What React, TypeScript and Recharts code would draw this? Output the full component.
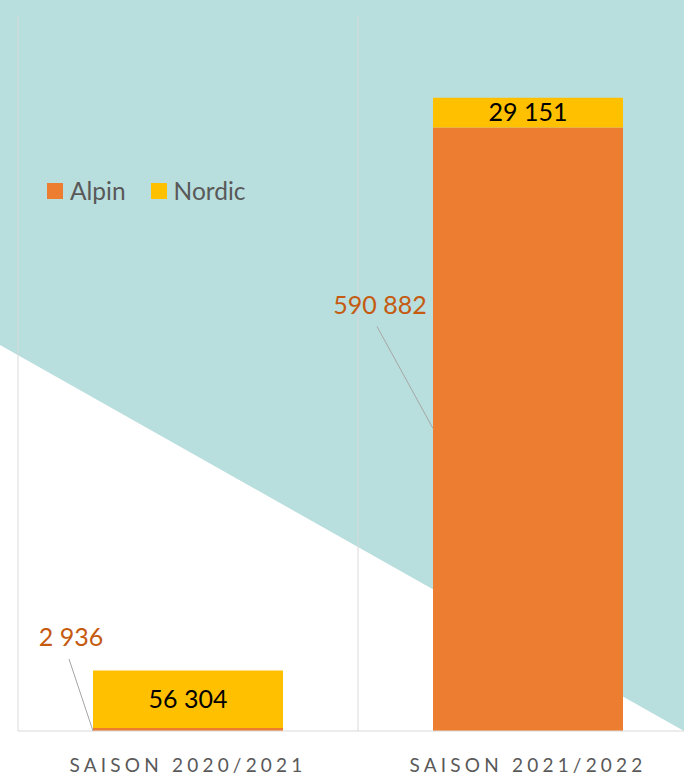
import React from 'react';
import { BarChart, Bar, XAxis, YAxis, CartesianGrid, Legend, LabelList } from 'recharts';

const seasons = ['SAISON 2020/2021', 'SAISON 2021/2022'];
const alpin = [2936, 590882];
const nordic = [56304, 29151];

const data = seasons.map((season, i) => ({ season, Alpin: alpin[i], Nordic: nordic[i] }));

const fmt = (v: number) => v.toLocaleString('fr-FR').replace(/\s/g, ' ');

const FONT = 'Lato, "Open Sans", sans-serif';

const AxisTick = (props: any) => {
  const { x, y, payload } = props;
  return (
    <text x={x} y={y + 33} textAnchor="middle" fill="#595959" fontSize={19} fontFamily={FONT} letterSpacing={4.2}>
      {payload.value}
    </text>
  );
};

// Alpin labels sit outside the bar with a leader line
const AlpinLabel = (props: any) => {
  const { x, y, height, value, index } = props;
  const bottom = y + height;
  if (index === 0) {
    return (
      <g>
        <line x1={x - 24} y1={bottom - 72} x2={x} y2={bottom} stroke="#A6A6A6" strokeWidth={1} />
        <text x={x - 22} y={bottom - 85} textAnchor="middle" fill="#C55A11" fontSize={25} fontFamily={FONT}>
          {fmt(value)}
        </text>
      </g>
    );
  }
  return (
    <g>
      <line x1={x - 56} y1={y + 199} x2={x} y2={y + 301} stroke="#A6A6A6" strokeWidth={1} />
      <text x={x - 53} y={y + 187} textAnchor="middle" fill="#C55A11" fontSize={25} fontFamily={FONT}>
        {fmt(value)}
      </text>
    </g>
  );
};

const LegendContent = (props: any) => {
  const { payload } = props;
  return (
    <div style={{ display: 'flex', gap: 25, fontFamily: FONT, fontSize: 24.5, color: '#595959' }}>
      {payload.map((p: any) => (
        <div key={p.value} style={{ display: 'flex', alignItems: 'center' }}>
          <span style={{ width: 16, height: 16, background: p.color, display: 'inline-block', marginRight: 7 }} />
          <span>{p.value}</span>
        </div>
      ))}
    </div>
  );
};

export default function App() {
  return (
    <div style={{ position: 'absolute', left: 0, top: 0, width: 684, height: 776, overflow: 'hidden', background: '#fff' }}>
      <svg width={684} height={776} style={{ position: 'absolute', left: 0, top: 0 }}>
        <polygon points="0,0 684,0 684,731 0,345" fill="#B8DEDD" />
        <text x={316} y={-5} fill="#1F3864" fontSize={30} fontWeight={700} fontFamily={FONT}>y</text>
      </svg>
      <div style={{ position: 'absolute', left: 0, top: 0 }}>
        <BarChart
          width={700}
          height={776}
          data={data}
          margin={{ top: 16, right: 2, left: 18, bottom: 0 }}
          barSize={190}
        >
          <CartesianGrid
            horizontal={false}
            stroke="#D9D9D9"
            verticalCoordinatesGenerator={({ offset }: any) => [offset.left, offset.left + offset.width / 2]}
          />
          <XAxis
            dataKey="season"
            height={45}
            axisLine={{ stroke: '#D9D9D9' }}
            tickLine={false}
            tick={<AxisTick />}
            interval={0}
          />
          <YAxis hide domain={[0, 700000]} />
          <Legend
            verticalAlign="middle"
            align="center"
            layout="horizontal"
            content={<LegendContent />}
            wrapperStyle={{ position: 'absolute', top: 176, left: 47, width: 'auto' }}
          />
          <Bar dataKey="Alpin" stackId="a" fill="#ED7D31" isAnimationActive={false}>
            <LabelList dataKey="Alpin" content={<AlpinLabel />} />
          </Bar>
          <Bar dataKey="Nordic" stackId="a" fill="#FFC000" isAnimationActive={false}>
            <LabelList
              dataKey="Nordic"
              position="center"
              fill="#000"
              fontSize={25}
              fontFamily={FONT}
              formatter={(v: any) => fmt(v)}
            />
          </Bar>
        </BarChart>
      </div>
    </div>
  );
}
